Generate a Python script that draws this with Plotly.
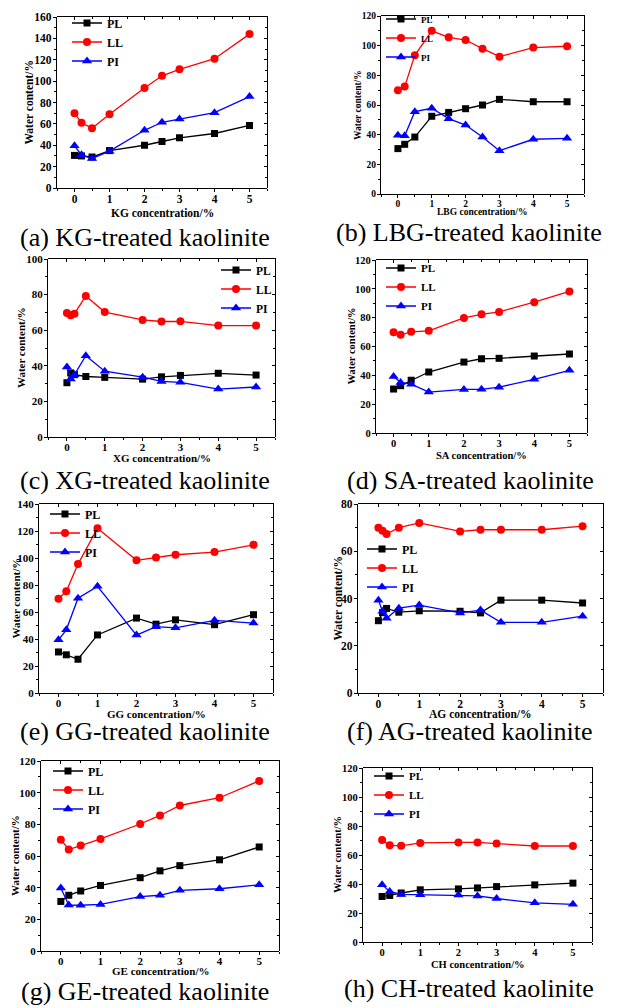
import plotly.graph_objects as go

# page is rendered with the browser's default 8px body margin
OFF = 8
FW, FH = 618 - OFF, 1008 - OFF

# ---------------- data ----------------
KG_x = [0, 0.2, 0.5, 1, 2, 2.5, 3, 4, 5]
KG_PL = [30.5, 30.0, 29.0, 35.0, 40.0, 43.5, 47.0, 51.0, 58.5]
KG_LL = [70.0, 61.0, 56.0, 69.0, 93.5, 105.0, 111.0, 121.0, 144.0]
KG_PI = [39.5, 31.0, 27.5, 34.5, 54.0, 61.5, 64.5, 70.5, 85.5]

LBG_x = [0, 0.2, 0.5, 1, 1.5, 2, 2.5, 3, 4, 5]
LBG_PL = [30.6, 33.5, 38.4, 52.4, 55.0, 57.5, 60.0, 63.8, 62.2, 62.2]
LBG_LL = [69.9, 72.4, 93.5, 110.0, 105.6, 103.8, 98.0, 92.6, 98.7, 99.6]
LBG_PI = [39.6, 39.3, 55.5, 57.8, 50.8, 46.5, 38.4, 29.2, 36.9, 37.5]

XG_x = [0, 0.1, 0.2, 0.5, 1, 2, 2.5, 3, 4, 5]
XG_PL = [30.5, 36.0, 35.0, 34.0, 33.5, 32.5, 33.8, 34.6, 35.8, 34.8]
XG_LL = [69.7, 68.4, 69.3, 79.2, 70.2, 65.8, 64.9, 65.0, 62.6, 62.6]
XG_PI = [39.3, 32.6, 35.0, 45.7, 37.0, 33.6, 31.2, 30.7, 26.9, 28.1]

SA_x = [0, 0.2, 0.5, 1, 2, 2.5, 3, 4, 5]
SA_PL = [30.5, 32.8, 36.6, 42.3, 49.2, 51.5, 51.8, 53.4, 54.8]
SA_LL = [69.9, 68.1, 70.2, 70.9, 79.8, 82.3, 84.0, 90.7, 98.2]
SA_PI = [39.2, 35.1, 33.9, 28.4, 30.2, 30.3, 31.8, 37.2, 43.5]

GG_x = [0, 0.2, 0.5, 1, 2, 2.5, 3, 4, 5]
GG_PL = [30.4, 28.3, 25.0, 43.0, 55.5, 51.0, 54.2, 50.6, 58.0]
GG_LL = [69.8, 75.3, 95.5, 122.0, 98.3, 100.3, 102.4, 104.4, 109.8]
GG_PI = [39.4, 46.8, 70.2, 79.0, 42.9, 49.1, 48.3, 53.8, 51.8]

AG_x = [0, 0.1, 0.2, 0.5, 1, 2, 2.5, 3, 4, 5]
AG_PL = [30.6, 34.0, 35.8, 34.2, 34.8, 34.6, 33.9, 39.3, 39.3, 38.1]
AG_LL = [70.0, 68.7, 67.3, 70.0, 72.0, 68.4, 69.1, 69.1, 69.1, 70.6]
AG_PI = [39.3, 34.6, 31.6, 35.9, 37.2, 33.9, 35.1, 29.9, 29.9, 32.5]

GE_x = [0, 0.2, 0.5, 1, 2, 2.5, 3, 4, 5]
GE_PL = [31.3, 35.2, 37.9, 41.4, 46.3, 50.6, 53.9, 57.6, 65.7]
GE_LL = [70.3, 64.1, 66.6, 70.8, 80.2, 85.6, 91.9, 96.8, 107.4]
GE_PI = [39.8, 29.0, 28.9, 29.4, 34.4, 35.2, 38.3, 39.3, 41.8]

CH_x = [0, 0.2, 0.5, 1, 2, 2.5, 3, 4, 5]
CH_PL = [31.4, 32.1, 33.8, 36.0, 36.6, 37.3, 38.2, 39.4, 40.6]
CH_LL = [70.3, 66.7, 66.3, 68.3, 68.7, 68.7, 67.9, 66.2, 66.2]
CH_PI = [39.4, 34.9, 32.8, 32.6, 32.5, 31.8, 30.0, 27.0, 26.0]

series_names = ["PL", "LL", "PI"]
agents = ["KG", "LBG", "XG", "SA", "GG", "AG", "GE", "CH"]
letters = ["a", "b", "c", "d", "e", "f", "g", "h"]
y_max = [160, 120, 100, 120, 140, 80, 120, 120]
x_ticks = [0, 1, 2, 3, 4, 5]
y_title = "Water content/%"

panel_data = [
    (KG_x, KG_PL, KG_LL, KG_PI),
    (LBG_x, LBG_PL, LBG_LL, LBG_PI),
    (XG_x, XG_PL, XG_LL, XG_PI),
    (SA_x, SA_PL, SA_LL, SA_PI),
    (GG_x, GG_PL, GG_LL, GG_PI),
    (AG_x, AG_PL, AG_LL, AG_PI),
    (GE_x, GE_PL, GE_LL, GE_PI),
    (CH_x, CH_PL, CH_LL, CH_PI),
]

# ---------------- layout geometry (page pixels) ----------------
# plot box: left, right, top, bottom
boxes = [
    (57, 267, 17, 188),
    (381, 584, 16, 194),
    (48, 275, 259, 437),
    (376, 587, 260, 433),
    (39, 273, 504, 693),
    (358, 603, 504, 693),
    (41, 279, 761, 951),
    (363, 592, 768, 942),
]
# legend: start of the sample line, centre of the middle entry
legend_pos = [
    (72, 42),
    (386, 38),
    (221, 289),
    (386, 287),
    (50, 533),
    (367, 568),
    (53, 790),
    (374, 795),
]
# axis-title centres: x-title centre y, y-title centre x
xtitle_y = [213, 212, 458, 455, 714, 714, 971, 964]
ytitle_x = [28, 358, 21, 351, 15, 337, 15, 337]
font_sz = [11.5, 9.5, 11, 10.5, 11, 11.5, 11, 10.5]
leg_sz = [12, 9, 11.5, 11, 12, 12, 12, 11]
captions = [(145, 238), (469, 233), (145, 480), (470, 480),
            (145, 731), (469, 731), (145, 991), (469, 988)]

colors = ["#000000", "#ff0000", "#0000ff"]
symbols = ["square", "circle", "triangle-up"]
msizes = [7, 8, 9]

SERIF = "Times New Roman, Liberation Serif, serif"


def fx(px):
    return (px - OFF) / FW


def fy(py):
    return 1 - (py - OFF) / FH


fig = go.Figure()
layout = dict(
    width=FW, height=FH,
    margin=dict(l=0, r=0, t=0, b=0, autoexpand=False),
    paper_bgcolor="white", plot_bgcolor="rgba(0,0,0,0)",
    font=dict(family=SERIF, color="black"),
    annotations=[],
)

for i in range(8):
    n = i + 1
    m = n + 8
    xs, pl, ll, pi = panel_data[i]
    leg = "legend" if n == 1 else f"legend{n}"
    for k, ys in enumerate((pl, ll, pi)):
        fig.add_trace(go.Scatter(
            x=xs, y=ys, mode="lines+markers", name=series_names[k],
            line=dict(color=colors[k], width=1.3),
            marker=dict(symbol=symbols[k], size=msizes[k], color=colors[k]),
            xaxis=f"x{n}", yaxis=f"y{n}", legend=leg, showlegend=True,
        ))
    l, r, t, b = boxes[i]
    xd = [fx(l), fx(r)]
    yd = [fy(b), fy(t)]
    fs = font_sz[i]
    boldfont = dict(family=SERIF, size=fs, color="black", weight="bold")
    axcommon = dict(showgrid=False, zeroline=False, linecolor="black",
                    linewidth=1.2, tickcolor="black", tickwidth=1, automargin=False)
    layout[f"xaxis{n}"] = dict(
        domain=xd, anchor=f"y{n}", range=[-0.5, 5.5],
        tickmode="array", tickvals=x_ticks, ticktext=[str(v) for v in x_ticks],
        ticks="outside", ticklen=3, showline=True, mirror=False,
        ticklabelstandoff=-3,
        minor=dict(dtick=0.5, tick0=0, ticks="outside", ticklen=2, tickcolor="black"),
        tickfont=boldfont, **axcommon)
    layout[f"yaxis{n}"] = dict(
        domain=yd, anchor=f"x{n}", range=[0, y_max[i]],
        tick0=0, dtick=20, ticks="outside", ticklen=3, showline=True, mirror=False,
        ticklabelstandoff=-1,
        minor=dict(dtick=10, tick0=0, ticks="outside", ticklen=2, tickcolor="black"),
        tickfont=boldfont, **axcommon)
    # coincident companion subplot: top / right frame with inward ticks
    layout[f"xaxis{m}"] = dict(
        domain=xd, anchor=f"y{m}", side="top", range=[-0.5, 5.5],
        tickmode="array", tickvals=x_ticks, ticks="inside", ticklen=3,
        showticklabels=False, showline=True,
        minor=dict(dtick=0.5, tick0=0, ticks="inside", ticklen=2, tickcolor="black"),
        **axcommon)
    layout[f"yaxis{m}"] = dict(
        domain=yd, anchor=f"x{m}", side="right", range=[0, y_max[i]],
        tick0=0, dtick=20, ticks="inside", ticklen=3,
        showticklabels=False, showline=True,
        minor=dict(dtick=10, tick0=0, ticks="inside", ticklen=2, tickcolor="black"),
        **axcommon)
    # axis titles
    layout["annotations"].append(dict(
        x=fx((l + r) / 2), y=fy(xtitle_y[i]), xref="paper", yref="paper",
        xanchor="center", yanchor="middle", showarrow=False,
        text=f"{agents[i]} concentration/%", font=boldfont,
    ))
    layout["annotations"].append(dict(
        x=fx(ytitle_x[i]), y=fy((t + b) / 2), xref="paper", yref="paper",
        xanchor="center", yanchor="middle", showarrow=False, textangle=-90,
        text=y_title, font=boldfont,
    ))
    lx, ly = legend_pos[i]
    layout[leg] = dict(
        x=fx(lx - 5), y=fy(ly), xanchor="left", yanchor="middle",
        xref="paper", yref="paper",
        bgcolor="rgba(0,0,0,0)", borderwidth=0, itemwidth=30,
        font=dict(family=SERIF, size=leg_sz[i], color="black", weight="bold"),
        tracegroupgap=0,
    )
    cx, cy = captions[i]
    layout["annotations"].append(dict(
        x=fx(cx), y=fy(cy), xref="paper", yref="paper",
        xanchor="center", yanchor="middle", showarrow=False,
        text=f"({letters[i]}) {agents[i]}-treated kaolinite",
        font=dict(family=SERIF, size=26, color="black"),
    ))

# empty traces so that the companion frame subplots exist
for i in range(8):
    m = i + 9
    fig.add_trace(go.Scatter(x=[None], y=[None], xaxis=f"x{m}", yaxis=f"y{m}",
                             showlegend=False, hoverinfo="skip"))

fig.update_layout(**layout)
fig.write_html("out.html")
